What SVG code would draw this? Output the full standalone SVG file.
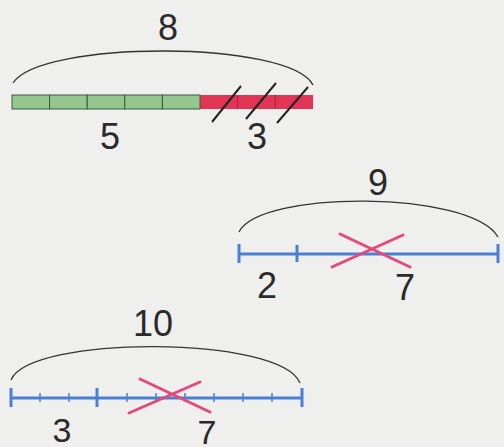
<svg xmlns="http://www.w3.org/2000/svg" width="504" height="447" viewBox="0 0 504 447">
<style>
.t{font-family:"Liberation Sans",Arial,sans-serif;font-size:36px;fill:#2a2a2a;text-anchor:middle}
.b{font-size:34px}
.arc{fill:none;stroke:#333;stroke-width:1.3}
.g{fill:#93c78e;stroke:#3c5a3c;stroke-width:1}
.r{fill:#e23454;stroke:none}
.sl{stroke:#222;stroke-width:2;fill:none}
.bl{stroke:#4a7fd4;stroke-width:3;fill:none}
.tk{stroke:#4a7fd4;stroke-width:3}
.tm{stroke:#4a7fd4;stroke-width:1.5}
.x{stroke:#e6487a;stroke-width:3;fill:none;stroke-linecap:round}
</style>
<rect width="504" height="447" fill="#eff0ee"/>
<g id="bar8">
<path class="arc" d="M13,83 C40,40 290,40 313,85"/>
<text class="t" x="168" y="40">8</text>
<rect class="r" x="200" y="95" width="113" height="14"/>
<rect class="g" x="12" y="95" width="37.6" height="14"/>
<rect class="g" x="49.6" y="95" width="37.6" height="14"/>
<rect class="g" x="87.2" y="95" width="37.6" height="14"/>
<rect class="g" x="124.8" y="95" width="37.6" height="14"/>
<rect class="g" x="162.4" y="95" width="37.6" height="14"/>
<line x1="237.6" y1="95" x2="237.6" y2="109" stroke="#b02040" stroke-width="1"/>
<line x1="275.2" y1="95" x2="275.2" y2="109" stroke="#b02040" stroke-width="1"/>
<line class="sl" x1="212" y1="122" x2="241" y2="86"/>
<line class="sl" x1="246" y1="119" x2="276" y2="83"/>
<line class="sl" x1="277" y1="123" x2="308" y2="87"/>
<text class="t" x="110" y="149">5</text>
<text class="t" x="257" y="149">3</text>
</g>
<g id="line9">
<path class="arc" d="M239,232 C260,190 470,190 498,237"/>
<text class="t" x="378" y="195">9</text>
<line class="bl" x1="239" y1="254" x2="498" y2="254"/>
<line class="tk" x1="239" y1="244" x2="239" y2="263"/>
<line class="tk" x1="297" y1="245" x2="297" y2="262"/>
<line class="tk" x1="498" y1="244" x2="498" y2="263"/>
<line class="x" x1="332" y1="267" x2="403" y2="235"/>
<line class="x" x1="340" y1="234" x2="410" y2="267"/>
<text class="t" x="267" y="298">2</text>
<text class="t" x="405" y="300">7</text>
</g>
<g id="line10">
<path class="arc" d="M11,380 C30,335 280,335 300,383"/>
<text class="t" x="153" y="336">10</text>
<line class="bl" x1="11" y1="398" x2="302" y2="398"/>
<line class="tk" x1="11" y1="388" x2="11" y2="407"/>
<line class="tk" x1="97" y1="388" x2="97" y2="407"/>
<line class="tk" x1="302" y1="388" x2="302" y2="407"/>
<line class="tm" x1="40" y1="393" x2="40" y2="402"/>
<line class="tm" x1="69" y1="393" x2="69" y2="402"/>
<line class="tm" x1="127" y1="393" x2="127" y2="402"/>
<line class="tm" x1="156" y1="393" x2="156" y2="402"/>
<line class="tm" x1="185" y1="393" x2="185" y2="402"/>
<line class="tm" x1="214" y1="393" x2="214" y2="402"/>
<line class="tm" x1="243" y1="393" x2="243" y2="402"/>
<line class="tm" x1="272" y1="393" x2="272" y2="402"/>
<line class="x" x1="129" y1="413" x2="200" y2="382"/>
<line class="x" x1="140" y1="379" x2="210" y2="412"/>
<text class="t b" x="62" y="442">3</text>
<text class="t b" x="207" y="444">7</text>
</g>
</svg>
